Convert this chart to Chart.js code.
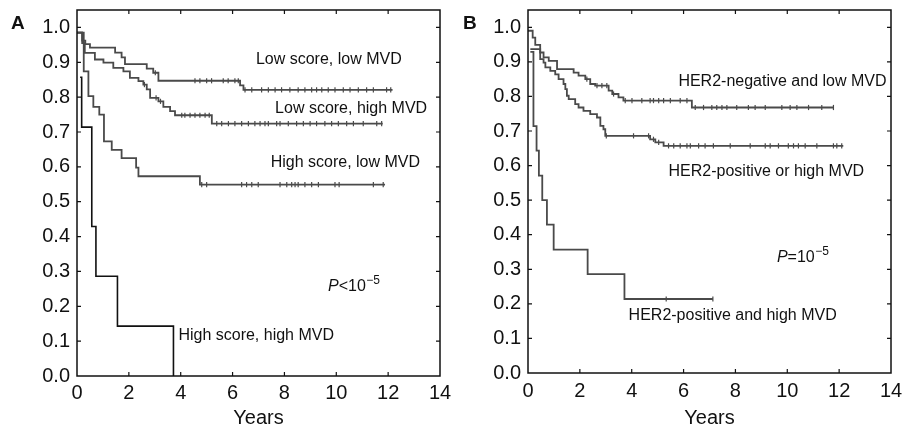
<!DOCTYPE html>
<html>
<head>
<meta charset="utf-8">
<script src="https://cdn.jsdelivr.net/npm/chart.js@4.4.1/dist/chart.umd.min.js"></script>
<style>
  html, body { margin: 0; padding: 0; background: #fff; }
  #wrap { position: relative; width: 902px; height: 431px; }
  .panel { position: absolute; top: 0; width: 451px; height: 431px; }
  #panelA { left: 0; }
  #panelB { left: 451px; }
</style>
</head>
<body>
<div id="wrap">
  <div class="panel" id="panelA"><canvas id="chA"></canvas></div>
  <div class="panel" id="panelB"><canvas id="chB"></canvas></div>
</div>
<script>
// ---- panel A: score x MVD (time in years, survival fraction) ----
var lowLowTime  = [0, 0.2, 0.32, 0.5, 1.47, 1.72, 1.85, 2.69, 2.94, 3.14, 6.29, 6.42, 12.17];
var lowLowSurv  = [0.985, 0.962, 0.952, 0.942, 0.928, 0.914, 0.895, 0.882, 0.87, 0.847, 0.834, 0.821, 0.821];
var lowLowCens  = [3.02, 4.55, 4.74, 5.0, 5.19, 5.64, 5.83, 6.09, 6.22, 6.48, 6.74, 7.12, 7.38, 7.64, 7.89, 8.21, 8.53, 8.79, 9.05, 9.24, 9.44, 9.69, 9.95, 10.27, 10.53, 10.85, 11.17, 11.43, 11.94, 12.1];

var lowHighTime = [0, 0.2, 0.3, 0.69, 1.02, 1.4, 1.79, 2.04, 2.37, 2.56, 2.69, 2.82, 3.14, 3.33, 3.59, 3.78, 5.2, 11.79];
var lowHighSurv = [0.985, 0.955, 0.927, 0.908, 0.899, 0.884, 0.874, 0.855, 0.846, 0.836, 0.822, 0.798, 0.788, 0.772, 0.76, 0.748, 0.724, 0.724];
var lowHighCens = [2.6, 3.05, 3.22, 4.04, 4.16, 4.36, 4.55, 4.74, 4.94, 5.1, 5.39, 5.58, 5.84, 6.09, 6.35, 6.61, 6.86, 7.06, 7.25, 7.38, 7.7, 7.83, 8.15, 8.47, 8.73, 8.99, 9.24, 9.56, 9.82, 10.08, 10.4, 10.66, 11.04, 11.56, 11.75];

var highLowTime = [0, 0.26, 0.44, 0.63, 0.86, 1.04, 1.34, 1.72, 2.28, 2.37, 4.74, 11.88];
var highLowSurv = [0.985, 0.874, 0.803, 0.772, 0.75, 0.673, 0.649, 0.625, 0.598, 0.573, 0.549, 0.549];
var highLowCens = [4.81, 5.0, 6.35, 6.54, 6.74, 6.99, 7.83, 8.09, 8.28, 8.41, 8.53, 8.79, 9.05, 9.31, 9.95, 10.11, 11.43, 11.81];

var highHighTime = [0.12, 0.18, 0.57, 0.73, 1.56, 3.72];
var highHighSurv = [0.857, 0.714, 0.429, 0.286, 0.143, 0];

// ---- panel B: HER2 x MVD ----
var negLowTime = [0, 0.18, 0.28, 0.47, 0.6, 0.8, 1.12, 1.76, 1.95, 2.21, 2.4, 2.59, 3.11, 3.25, 3.49, 3.68, 6.32, 11.78];
var negLowSurv = [0.99, 0.97, 0.949, 0.927, 0.913, 0.903, 0.879, 0.869, 0.86, 0.85, 0.836, 0.831, 0.817, 0.807, 0.797, 0.788, 0.768, 0.768];
var negLowCens = [2.27, 2.66, 2.85, 3.04, 3.3, 3.75, 4.01, 4.39, 4.71, 4.84, 5.04, 5.23, 5.49, 5.87, 6.13, 6.45, 6.77, 7.09, 7.28, 7.48, 7.67, 8.05, 8.5, 8.76, 9.15, 9.79, 10.11, 10.37, 10.82, 11.33, 11.78];

var posOrTime = [0.09, 0.47, 0.6, 0.67, 0.86, 1.05, 1.18, 1.37, 1.44, 1.5, 1.57, 1.82, 1.95, 2.14, 2.4, 2.66, 2.79, 2.91, 2.98, 4.71, 4.91, 5.23, 12.16];
var posOrSurv = [0.937, 0.908, 0.898, 0.884, 0.874, 0.864, 0.85, 0.836, 0.821, 0.802, 0.792, 0.778, 0.768, 0.758, 0.749, 0.739, 0.715, 0.705, 0.686, 0.676, 0.667, 0.657, 0.657];
var posOrCens = [3.02, 4.07, 4.65, 4.84, 5.04, 5.42, 5.62, 5.87, 6.13, 6.26, 6.58, 6.83, 7.15, 7.8, 8.57, 9.15, 9.34, 9.66, 10.04, 10.24, 10.43, 10.69, 11.14, 11.78, 11.91, 12.1];

var posAndTime = [0.09, 0.21, 0.33, 0.42, 0.55, 0.73, 0.99, 2.3, 3.72, 7.13];
var posAndSurv = [0.929, 0.714, 0.643, 0.571, 0.5, 0.429, 0.357, 0.286, 0.214, 0.214];
var posAndCens = [5.33, 7.13];

var yearTicks = [0, 2, 4, 6, 8, 10, 12, 14];
var survTicks = [0, 0.1, 0.2, 0.3, 0.4, 0.5, 0.6, 0.7, 0.8, 0.9, 1.0];

// text placed in data units
var labelsA = [
  { text: 'Low score, low MVD', t: 6.9, v: 0.894 },
  { text: 'Low score, high MVD', t: 7.64, v: 0.755 },
  { text: 'High score, low MVD', t: 7.47, v: 0.601 },
  { text: 'High score, high MVD', t: 3.91, v: 0.103 }
];
var labelsB = [
  { text: 'HER2-negative and low MVD', t: 5.8, v: 0.829 },
  { text: 'HER2-positive or high MVD', t: 5.42, v: 0.57 },
  { text: 'HER2-positive and high MVD', t: 3.88, v: 0.153 }
];

var FONT = '"Liberation Sans", Arial, Helvetica, sans-serif';
var GREY = '#4a4a4a';
var BLACK = '#111';

Chart.defaults.font.family = FONT;

// survival level at time t (for placing censor marks on the curve)
function survAt(times, surv, t) {
  var s = surv[0];
  for (var i = 0; i < times.length; i++) {
    if (times[i] <= t) s = surv[i];
  }
  return s;
}

function curve(times, surv, color, width) {
  return {
    data: times.map(function(t, i) { return { x: t, y: surv[i] }; }),
    borderColor: color,
    borderWidth: width,
    stepped: 'before',
    pointRadius: 0,
    fill: false
  };
}

function censors(cens, times, surv, color) {
  return {
    data: cens.map(function(t) { return { x: t, y: survAt(times, surv, t) }; }),
    showLine: false,
    pointStyle: 'line',
    rotation: 90,
    pointRadius: 2.6,
    pointBorderWidth: 1.2,
    borderColor: color,
    pointBorderColor: color
  };
}

// box around plot area with inward tick marks
var frame = {
  id: 'frame',
  afterDraw: function(chart) {
    var ctx = chart.ctx, a = chart.chartArea;
    var x = chart.scales.x, y = chart.scales.y;
    ctx.save();
    ctx.strokeStyle = BLACK;
    ctx.lineWidth = 1.5;
    ctx.strokeRect(a.left, a.top, a.right - a.left, a.bottom - a.top);
    ctx.lineWidth = 1.2;
    ctx.beginPath();
    yearTicks.forEach(function(v) {
      if (v <= x.min || v >= x.max) return;
      var px = x.getPixelForValue(v);
      ctx.moveTo(px, a.bottom); ctx.lineTo(px, a.bottom - 4);
      ctx.moveTo(px, a.top); ctx.lineTo(px, a.top + 4);
    });
    survTicks.forEach(function(v) {
      if (v <= y.min) return;
      var py = y.getPixelForValue(v);
      ctx.moveTo(a.left, py); ctx.lineTo(a.left + 4, py);
      ctx.moveTo(a.right, py); ctx.lineTo(a.right - 4, py);
    });
    ctx.stroke();
    ctx.restore();
  }
};

// panel letter, curve names and P value
var kmText = {
  id: 'kmText',
  afterDraw: function(chart, args, o) {
    var ctx = chart.ctx, x = chart.scales.x, y = chart.scales.y;
    ctx.save();
    ctx.fillStyle = BLACK;
    ctx.textBaseline = 'alphabetic';
    ctx.textAlign = 'left';
    ctx.font = 'bold 19px ' + FONT;
    ctx.fillText(o.letter, o.letterX, 28.5);
    ctx.font = '16px ' + FONT;
    o.labels.forEach(function(l) {
      ctx.fillText(l.text, x.getPixelForValue(l.t), y.getPixelForValue(l.v));
    });
    var px = x.getPixelForValue(o.pval.t), py = y.getPixelForValue(o.pval.v);
    ctx.font = 'italic 16px ' + FONT;
    ctx.fillText('P', px, py);
    px += ctx.measureText('P').width;
    ctx.font = '16px ' + FONT;
    ctx.fillText(o.pval.rel + '10', px, py);
    px += ctx.measureText(o.pval.rel + '10').width;
    ctx.font = '12px ' + FONT;
    ctx.fillText('\u22125', px + 0.5, py - 7);
    ctx.restore();
  }
};

function makeChart(id, datasets, text, axisHeight, tickPad) {
  return new Chart(document.getElementById(id), {
    type: 'line',
    data: { datasets: datasets },
    plugins: [frame, kmText],
    options: {
      responsive: true,
      maintainAspectRatio: false,
      devicePixelRatio: 1,
      animation: false,
      layout: { padding: { top: 10, right: 11, left: 0, bottom: 0 } },
      plugins: {
        legend: { display: false },
        tooltip: { enabled: false },
        kmText: text
      },
      scales: {
        x: {
          type: 'linear',
          min: 0,
          max: 14,
          afterBuildTicks: function(s) { s.ticks = yearTicks.map(function(v) { return { value: v }; }); },
          afterFit: function(s) {
            s.height = axisHeight;
            s.paddingLeft = 0;
            s.paddingRight = 0;
          },
          ticks: { color: BLACK, font: { size: 20 }, padding: tickPad, maxRotation: 0 },
          grid: { display: false, drawTicks: false },
          border: { display: false },
          title: { display: true, text: 'Years', color: BLACK, font: { size: 20 }, padding: { top: 0, bottom: 1 } }
        },
        y: {
          type: 'linear',
          min: 0,
          max: 1.05,
          afterBuildTicks: function(s) { s.ticks = survTicks.map(function(v) { return { value: v }; }); },
          afterFit: function(s) {
            s.width = 77;
            s.paddingTop = 0;
            s.paddingBottom = 0;
          },
          ticks: {
            color: BLACK,
            font: { size: 20 },
            padding: 7,
            callback: function(v) { return v.toFixed(1); }
          },
          grid: { display: false, drawTicks: false },
          border: { display: false }
        }
      }
    }
  });
}

makeChart('chA', [
  curve(lowLowTime, lowLowSurv, GREY, 1.8),
  censors(lowLowCens, lowLowTime, lowLowSurv, GREY),
  curve(lowHighTime, lowHighSurv, GREY, 1.8),
  censors(lowHighCens, lowHighTime, lowHighSurv, GREY),
  curve(highLowTime, highLowSurv, GREY, 1.8),
  censors(highLowCens, highLowTime, highLowSurv, GREY),
  curve(highHighTime, highHighSurv, BLACK, 1.6)
], { letter: 'A', letterX: 11, labels: labelsA, pval: { t: 9.68, v: 0.245, rel: '<' } }, 55, 5.5);

makeChart('chB', [
  curve(negLowTime, negLowSurv, GREY, 1.8),
  censors(negLowCens, negLowTime, negLowSurv, GREY),
  curve(posOrTime, posOrSurv, GREY, 1.8),
  censors(posOrCens, posOrTime, posOrSurv, GREY),
  curve(posAndTime, posAndSurv, GREY, 1.8),
  censors(posAndCens, posAndTime, posAndSurv, GREY)
], { letter: 'B', letterX: 12, labels: labelsB, pval: { t: 9.6, v: 0.321, rel: '=' } }, 58, 6.5);
</script>
</body>
</html>
